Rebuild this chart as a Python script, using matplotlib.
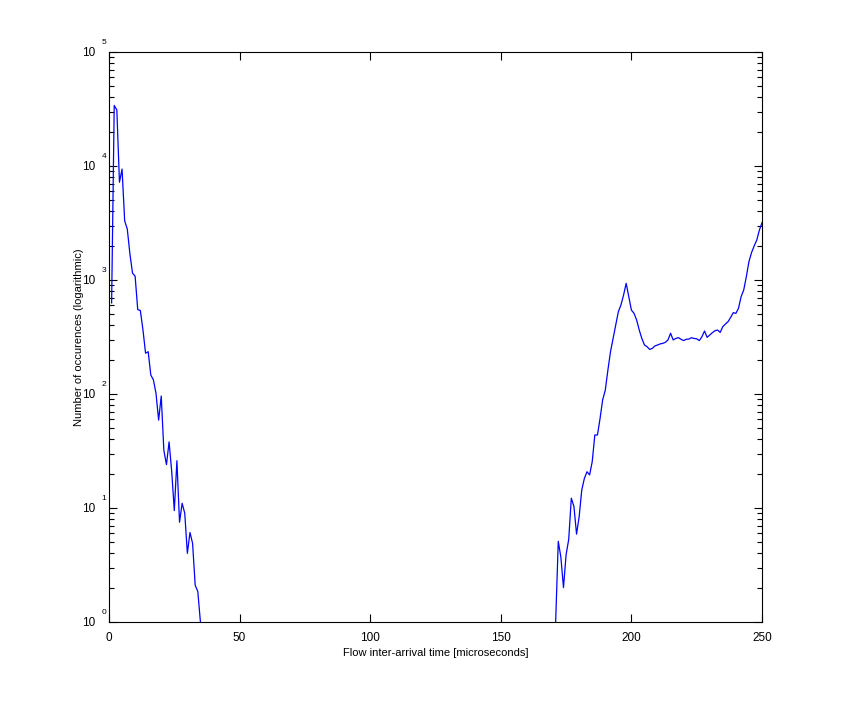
import numpy as np
import matplotlib.pyplot as plt
import matplotlib.transforms as mtransforms
from matplotlib.ticker import LogLocator, FixedLocator

# Histogram of flow inter-arrival times, 1 microsecond bins (0..250)
left_bins = np.arange(1, 36)
left_counts = [630, 34000, 31000, 7200, 9400, 3300, 2800, 1700, 1150, 1080,
               550, 540, 365, 228, 235, 147, 133, 101, 59, 96,
               32, 24, 38, 21, 9.5, 26, 7.5, 11, 9, 4,
               6.1, 4.9, 2.1, 1.85, 1]

right_bins = np.arange(171, 251)
right_counts = [1, 5.1, 3.7, 2.0, 3.9, 5.3, 12.2, 10.3, 5.9, 8.4,
                14.4, 18.2, 20.8, 19.5, 25.5, 43.7, 43.7, 61, 89, 108,
                162, 235, 307, 402, 527, 604, 738, 935, 714, 545,
                510, 446, 364, 307, 269, 260, 246, 251, 264, 269,
                275, 278, 284, 298, 341, 298, 307, 312, 302, 294,
                302, 303, 312, 307, 305, 294, 318, 357, 314, 329,
                345, 359, 364, 347, 390, 411, 431, 470, 517, 510,
                564, 714, 817, 1069, 1450, 1740, 1990, 2240, 2740, 3180]

xticks = [0, 50, 100, 150, 200, 250]
decades = [0, 1, 2, 3, 4, 5]

x = np.arange(0, 251)
counts = np.zeros(len(x))
counts[left_bins] = left_counts
counts[right_bins] = right_counts
counts[counts <= 0] = np.nan  # empty bins are not drawn on log scale

plt.rcParams['font.family'] = ['Liberation Sans', 'DejaVu Sans']

fig = plt.figure(figsize=(8.41, 7.01), dpi=100)
ax = fig.add_axes([109/841, 79/701, 653/841, 570/701])

ax.plot(x, counts, color='#0000ff', linewidth=0.9)

ax.set_yscale('log')
ax.set_xlim(0, 250)
ax.set_ylim(1, 1e5)
ax.xaxis.set_major_locator(FixedLocator(xticks))
ax.yaxis.set_major_locator(FixedLocator([10.0 ** d for d in decades]))
ax.yaxis.set_minor_locator(LogLocator(base=10, subs=np.arange(2, 10), numticks=20))

# MATLAB-style labels: "10" with the exponent set above and to the right
ax.set_yticklabels(['10'] * len(decades))
offset = mtransforms.offset_copy(ax.get_yaxis_transform(), fig=fig, x=-5, y=10, units='dots')
for d in decades:
    ax.text(0, 10.0 ** d, str(d), transform=offset, fontsize=6,
            ha='center', va='center')

ax.tick_params(which='both', direction='in', top=True, right=True, labelsize=8.5)
ax.tick_params(axis='x', which='major', pad=7)
ax.tick_params(axis='y', which='major', pad=10)
ax.tick_params(which='major', length=6, width=0.8)
ax.tick_params(which='minor', length=3.5, width=0.8)
for s in ax.spines.values():
    s.set_linewidth(0.8)

ax.set_xlabel('Flow inter-arrival time [microseconds]', fontsize=8)
ax.set_ylabel('Number of occurences (logarithmic)', fontsize=8)
ax.xaxis.set_label_coords(0.5, -0.046)
ax.yaxis.set_label_coords(-0.039, 0.5)

fig.savefig('out.png', dpi=100)
